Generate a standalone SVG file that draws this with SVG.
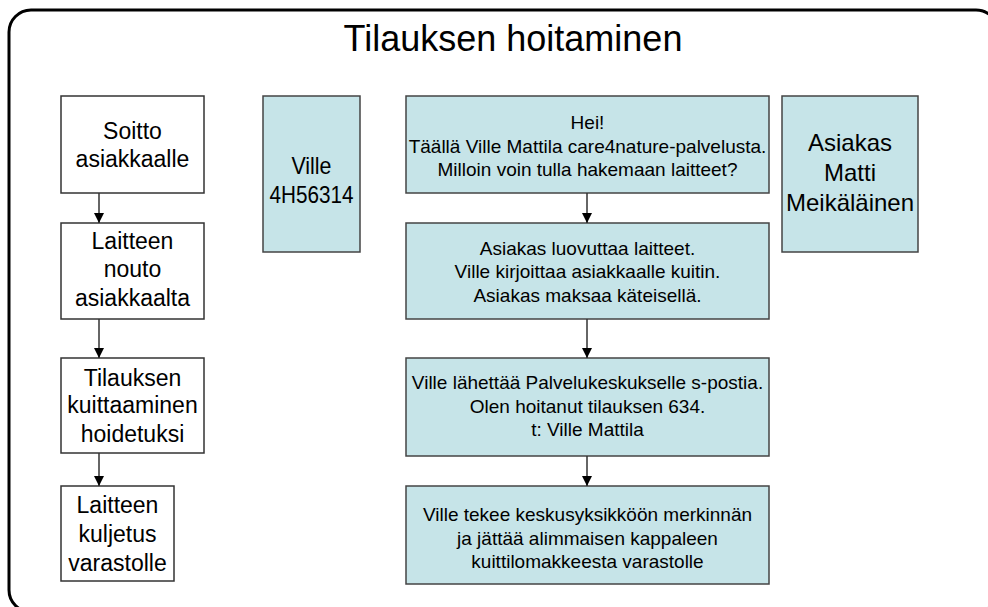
<svg xmlns="http://www.w3.org/2000/svg" width="988" height="607" viewBox="0 0 988 607">
<style>
  .frame{fill:#fff;stroke:#000;stroke-width:3}
  .wbox{fill:#fff;stroke:#333;stroke-width:1.5}
  .bbox{fill:#c6e4e8;stroke:#444;stroke-width:1.5}
  text{font-family:"Liberation Sans",Arial,sans-serif;fill:#000;text-anchor:middle}
  .title{font-size:36px}
  .l{font-size:23px}
  .m{font-size:24px}
  .s{font-size:19px}
  .conn line{stroke:#333;stroke-width:1.5}
</style>
<defs>
  <marker id="ah" viewBox="0 0 10 10" refX="10" refY="5" markerWidth="10" markerHeight="10" markerUnits="userSpaceOnUse" orient="auto">
    <path d="M0,0 L10,5 L0,10 z" fill="#000"/>
  </marker>
</defs>
<rect class="frame" x="9" y="10" width="989" height="602" rx="22" ry="22"/>
<text class="title" x="513" y="51">Tilauksen hoitaminen</text>

<g id="n_soitto">
  <rect class="wbox" x="61" y="96" width="143" height="97"/>
  <text class="l" x="132.5" y="139">Soitto</text>
  <text class="l" x="132.5" y="167">asiakkaalle</text>
</g>
<g id="n_nouto">
  <rect class="wbox" x="61" y="223" width="143" height="96"/>
  <text class="l" x="132.5" y="249">Laitteen</text>
  <text class="l" x="132.5" y="277">nouto</text>
  <text class="l" x="132.5" y="306">asiakkaalta</text>
</g>
<g id="n_kuittaus">
  <rect class="wbox" x="61" y="358" width="143" height="95"/>
  <text class="l" x="132.5" y="386">Tilauksen</text>
  <text class="l" x="132.5" y="413">kuittaaminen</text>
  <text class="l" x="132.5" y="442">hoidetuksi</text>
</g>
<g id="n_kuljetus">
  <rect class="wbox" x="61" y="486" width="113" height="95"/>
  <text class="l" x="117.5" y="513">Laitteen</text>
  <text class="l" x="117.5" y="542">kuljetus</text>
  <text class="l" x="117.5" y="571">varastolle</text>
</g>

<g id="n_ville">
  <rect class="bbox" x="263" y="96" width="97" height="156"/>
  <text class="m" x="311.5" y="174" textLength="40" lengthAdjust="spacingAndGlyphs">Ville</text>
  <text class="m" x="311.5" y="203" textLength="84" lengthAdjust="spacingAndGlyphs">4H56314</text>
</g>
<g id="n_asiakas">
  <rect class="bbox" x="782" y="96" width="136" height="156"/>
  <text class="m" x="850" y="151">Asiakas</text>
  <text class="m" x="850" y="181">Matti</text>
  <text class="m" x="850" y="211">Meikäläinen</text>
</g>
<g id="n_hei">
  <rect class="bbox" x="406" y="96" width="363" height="97"/>
  <text class="s" x="587.5" y="129">Hei!</text>
  <text class="s" x="587.5" y="152.5">Täällä Ville Mattila care4nature-palvelusta.</text>
  <text class="s" x="587.5" y="176">Milloin voin tulla hakemaan laitteet?</text>
</g>
<g id="n_luovutus">
  <rect class="bbox" x="406" y="223" width="363" height="96"/>
  <text class="s" x="587.5" y="254.5">Asiakas luovuttaa laitteet.</text>
  <text class="s" x="587.5" y="278">Ville kirjoittaa asiakkaalle kuitin.</text>
  <text class="s" x="587.5" y="301.5">Asiakas maksaa käteisellä.</text>
</g>
<g id="n_sposti">
  <rect class="bbox" x="406" y="358" width="363" height="98"/>
  <text class="s" x="587.5" y="389">Ville lähettää Palvelukeskukselle s-postia.</text>
  <text class="s" x="587.5" y="412.5">Olen hoitanut tilauksen 634.</text>
  <text class="s" x="587.5" y="436">t: Ville Mattila</text>
</g>
<g id="n_merkinta">
  <rect class="bbox" x="406" y="486" width="363" height="98"/>
  <text class="s" x="587.5" y="521">Ville tekee keskusyksikköön merkinnän</text>
  <text class="s" x="587.5" y="544.5">ja jättää alimmaisen kappaleen</text>
  <text class="s" x="587.5" y="568">kuittilomakkeesta varastolle</text>
</g>

<g id="connectors" class="conn">
  <line x1="99" y1="193" x2="99" y2="223" marker-end="url(#ah)"/>
  <line x1="99" y1="319" x2="99" y2="358" marker-end="url(#ah)"/>
  <line x1="99" y1="453" x2="99" y2="486" marker-end="url(#ah)"/>
  <line x1="587" y1="193" x2="587" y2="223" marker-end="url(#ah)"/>
  <line x1="587" y1="319" x2="587" y2="358" marker-end="url(#ah)"/>
  <line x1="587" y1="456" x2="587" y2="486" marker-end="url(#ah)"/>
</g>
</svg>
